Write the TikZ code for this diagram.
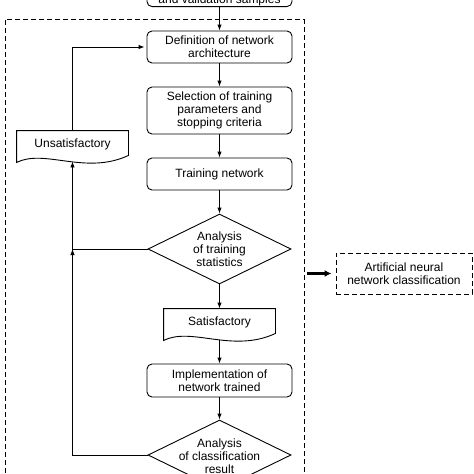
\documentclass[tikz,border=0pt]{standalone}
\usepackage{fontspec}
\setmainfont{Liberation Sans}
\usetikzlibrary{shapes.geometric,arrows.meta,calc}

\tikzset{
  box/.style={draw, rounded corners=5pt, minimum width=145pt, align=center, inner sep=2pt},
  decision/.style={draw, diamond, minimum width=143pt, minimum height=70pt, inner sep=0pt},
  doc/.style={minimum width=111pt, minimum height=26pt, inner sep=0pt},
  arrow/.style={-{Latex[length=6pt,width=4.5pt]}},
  bigarrow/.style={-{Latex[length=7pt,width=7pt]}, line width=2.2pt},
  framebox/.style={draw, dash pattern=on 5pt off 3pt},
}

\begin{document}
\begin{tikzpicture}[x=1pt, y=-1pt, line width=0.9pt, font=\fontsize{12}{13}\selectfont]
  \useasboundingbox (0,0) rectangle (474,474);
  % outer frame and samples box (cut by the page)
  \node (frame) [framebox, minimum width=298.5pt, minimum height=490pt, anchor=north west] at (5,19) {};
  \node (samples) [box, inner ysep=1pt, anchor=south] at (219.5,7) {\mbox{}\\\mbox{}\\and validation samples};
  % main column
  \node (arch) [box, minimum height=32pt] at (219.5,47) {Definition of network\\architecture};
  \node (params) [box, minimum height=47pt] at (219.5,110.5) {Selection of training\\parameters and\\stopping criteria};
  \node (train) [box, minimum height=32pt] at (219.5,174) {Training network};
  \node (stats) [decision] at (219.5,249) {};
  \node (stats text) [align=center] at (stats) {Analysis\\of training\\statistics};
  \node (satisf) [doc] at (219.5,322) {Satisfactory};
  \node (impl) [box, minimum height=33pt] at (219.5,380.5) {Implementation of\\network trained};
  \node (classif) [decision] at (219.5,455) {};
  \node (classif text) [align=center] at (219.5,456) {Analysis\\of classification\\result};
  % side nodes
  \node (unsat) [doc] at (72.5,144) {Unsatisfactory};
  \node (ann) [framebox, minimum width=136pt, minimum height=41pt, align=center] at (404,273.5) {Artificial neural\\network classification};
  \coordinate (loop) at (72.5,249);

  % document outlines
  \foreach \d in {unsat,satisf}
    \draw (\d.north west) -- ($(\d.south west)+(0,5)$)
      .. controls +(28,-14) and +(-43,20) .. ($(\d.south east)+(0,-2)$)
      -- (\d.north east) -- cycle;

  % connectors
  \draw[arrow] (samples) -- (arch);
  \draw[arrow] (arch) -- (params);
  \draw[arrow] (params) -- (train);
  \draw[arrow] (train) -- (stats);
  \draw[arrow] (stats) -- (satisf);
  \draw[arrow] ($(satisf.south)+(0,5)$) -- (impl);
  \draw[arrow] (impl) -- (classif);
  \draw[arrow] (stats.west) -- (loop) -- ($(unsat.south)+(0,4)$);
  \draw[arrow] (classif.west) -| (loop);
  \draw[arrow, shorten >=2pt] (unsat.north) |- (arch.west);
  \draw[bigarrow, shorten <=3pt, shorten >=4pt] (frame.east |- ann.west) -- (ann.west);
\end{tikzpicture}
\end{document}
